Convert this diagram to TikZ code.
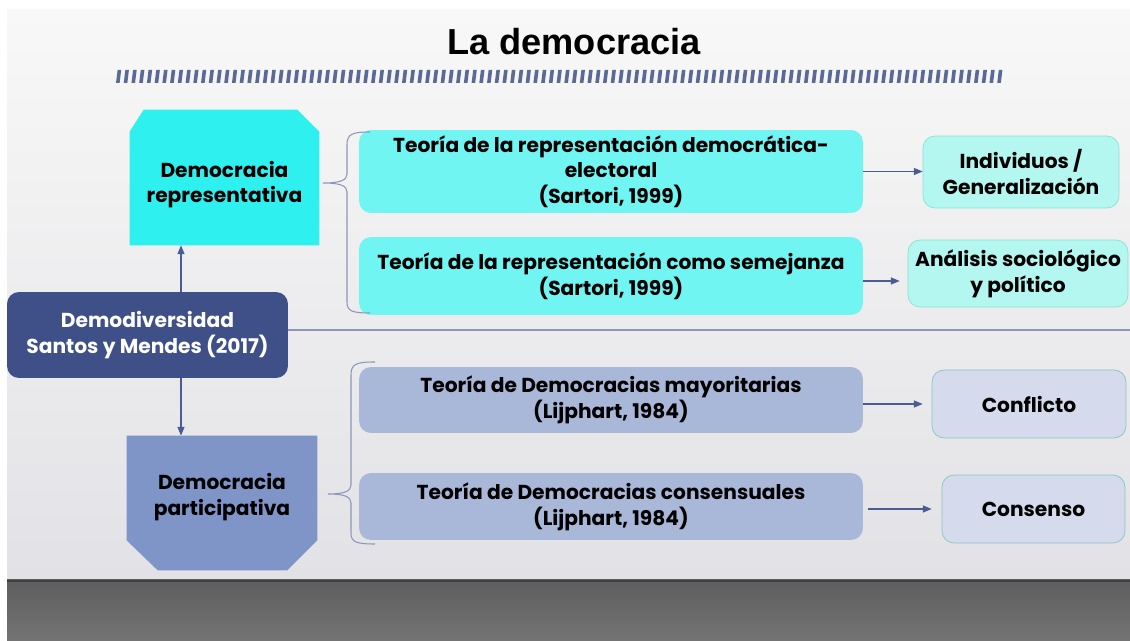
\documentclass[tikz,border=0pt]{standalone}
\usepackage{fontspec}
\setmainfont{Poppins}
\newfontfamily\titlefont{Liberation Sans}
\usetikzlibrary{arrows.meta}

\definecolor{slidetop}{HTML}{F8F8F8}
\definecolor{slidebot}{HTML}{E2E2E6}
\definecolor{bandtop}{HTML}{5E5E5E}
\definecolor{bandbot}{HTML}{747474}
\definecolor{stripecol}{HTML}{5B6A94}
\definecolor{repfill}{HTML}{2EF0EE}
\definecolor{parfill}{HTML}{7F94C7}
\definecolor{demofill}{HTML}{3E5087}
\definecolor{teorepfill}{HTML}{70F5F3}
\definecolor{teoparfill}{HTML}{A9B7D9}
\definecolor{resrepfill}{HTML}{B4F6F0}
\definecolor{resrepline}{HTML}{86E3C9}
\definecolor{resparfill}{HTML}{D5DBEC}
\definecolor{resparline}{HTML}{80C5C0}
\definecolor{linecol}{HTML}{8C96B8}
\definecolor{arrowcol}{HTML}{4B5B94}

\newcommand\boxfont{\fontsize{11.5}{14.6}\selectfont\bfseries}

\begin{document}
\begin{tikzpicture}[x=0.02cm, y=-0.02cm,
    box/.style={rounded corners=0.24cm, align=center, font=\boxfont, inner sep=0pt},
    label/.style={align=center, font=\boxfont, inner sep=0pt},
    arr/.style={draw=arrowcol, line width=0.6pt, -{Triangle[length=5pt,width=4pt]}},
    link/.style={draw=linecol, line width=0.6pt}]
    \useasboundingbox (0,0) rectangle (1130,641);

    % fondo de la diapositiva
    \fill[white] (0,0) rectangle (1130,641);
    \shade[top color=slidetop, bottom color=slidebot] (7,10) rectangle (1130,580);
    \shade[top color=bandtop, bottom color=bandbot] (7,580) rectangle (1130,641);
    \draw[black!75, line width=1.2pt] (7,581) -- (1130,581);

    % titulo
    \node[anchor=base, font=\titlefont\bfseries\fontsize{20.6}{24}\selectfont] (title) at (574,55) {La democracia};
    \foreach \i in {0,...,114}
        \fill[stripecol] ({116+7.73*\i},83) -- ++(3.6,0) -- ++(1.6,-13) -- ++(-3.6,0) -- cycle;

    % tipos de democracia
    \node[minimum width=3.78cm, minimum height=2.7cm, inner sep=0pt] (rep) at (224.5,177.5) {};
    \fill[repfill] (rep.south west) -- ([yshift=-0.44cm]rep.north west) -- ([xshift=0.28cm]rep.north west)
        -- ([xshift=-0.44cm]rep.north east) -- ([yshift=-0.44cm]rep.north east) -- (rep.south east) -- cycle;
    \node[label] (reptxt) at ([yshift=-0.14cm]rep.center) {Democracia\\representativa};

    \node[minimum width=3.8cm, minimum height=2.68cm, inner sep=0pt] (par) at (222,503) {};
    \fill[parfill] (par.north west) -- ([yshift=0.6cm]par.south west) -- ([xshift=0.62cm]par.south west)
        -- ([xshift=-0.6cm]par.south east) -- ([yshift=0.6cm]par.south east) -- (par.north east) -- cycle;
    \node[label] (partxt) at ([yshift=0.12cm]par.center) {Democracia\\participativa};

    \node[box, fill=demofill, text=white, minimum width=5.62cm, minimum height=1.72cm] (demo) at (147.5,335) {Demodiversidad\\Santos y Mendes (2017)};

    % teorias
    \node[box, fill=teorepfill, minimum width=10.08cm, minimum height=1.66cm] (t1) at (611,171.5) {Teoría de la representación democrática-\\electoral\\(Sartori, 1999)};
    \node[box, fill=teorepfill, minimum width=10.08cm, minimum height=1.56cm] (t2) at (611,276) {Teoría de la representación como semejanza\\(Sartori, 1999)};
    \node[box, fill=teoparfill, minimum width=10.08cm, minimum height=1.32cm] (t3) at (611,400) {Teoría de Democracias mayoritarias\\(Lijphart, 1984)};
    \node[box, fill=teoparfill, minimum width=10.08cm, minimum height=1.34cm] (t4) at (611,506.5) {Teoría de Democracias consensuales\\(Lijphart, 1984)};

    % resultados
    \node[box, fill=resrepfill, draw=resrepline, minimum width=3.92cm, minimum height=1.44cm] (r1) at (1021,172) {Individuos /\\Generalización};
    \node[box, fill=resrepfill, draw=resrepline, minimum width=4.4cm, minimum height=1.34cm] (r2) at (1018,273.5) {Análisis sociológico\\y político};
    \node[box, fill=resparfill, draw=resparline, minimum width=3.88cm, minimum height=1.36cm] (r3) at (1029,404) {Conflicto};
    \node[box, fill=resparfill, draw=resparline, minimum width=3.66cm, minimum height=1.36cm] (r4) at (1033.5,509) {Consenso};

    % conectores
    \coordinate (edge) at (1130,330);
    \draw[link] (demo.east |- edge) -- (edge);
    \coordinate (up) at ([xshift=0.67cm]demo.north);
    \coordinate (down) at ([xshift=0.67cm]demo.south);
    \draw[arr] (up) -- (up |- rep.south);
    \draw[arr] (down) -- (down |- par.north);

    \coordinate (a2) at ([yshift=-0.1cm]t2.east);
    \coordinate (a3) at ([yshift=-0.08cm]t3.east);
    \coordinate (a4) at ([yshift=-0.05cm]t4.east);
    \draw[arr] (t1.east) -- (t1.east -| r1.west);
    \draw[arr, shorten >=0.16cm] (a2) -- (a2 -| r2.west);
    \draw[arr, shorten >=0.18cm] (a3) -- (a3 -| r3.west);
    \draw[arr, shorten <=0.1cm, shorten >=0.2cm] (a4) -- (a4 -| r4.west);

    % llaves
    \draw[link] (370,132) .. controls (352,132) and (347,134) .. (347,145) -- (347,174)
        .. controls (347,180) and (341,183) .. (323,183) .. controls (341,183) and (347,186) .. (347,192)
        -- (347,302) .. controls (347,311) and (352,313) .. (370,313);
    \draw[link] (375,362) .. controls (356,362) and (351,364) .. (351,375) -- (351,485)
        .. controls (351,491) and (345,494) .. (328,494) .. controls (345,494) and (351,497) .. (351,503)
        -- (351,533) .. controls (351,542) and (356,544) .. (375,544);
\end{tikzpicture}
\end{document}
